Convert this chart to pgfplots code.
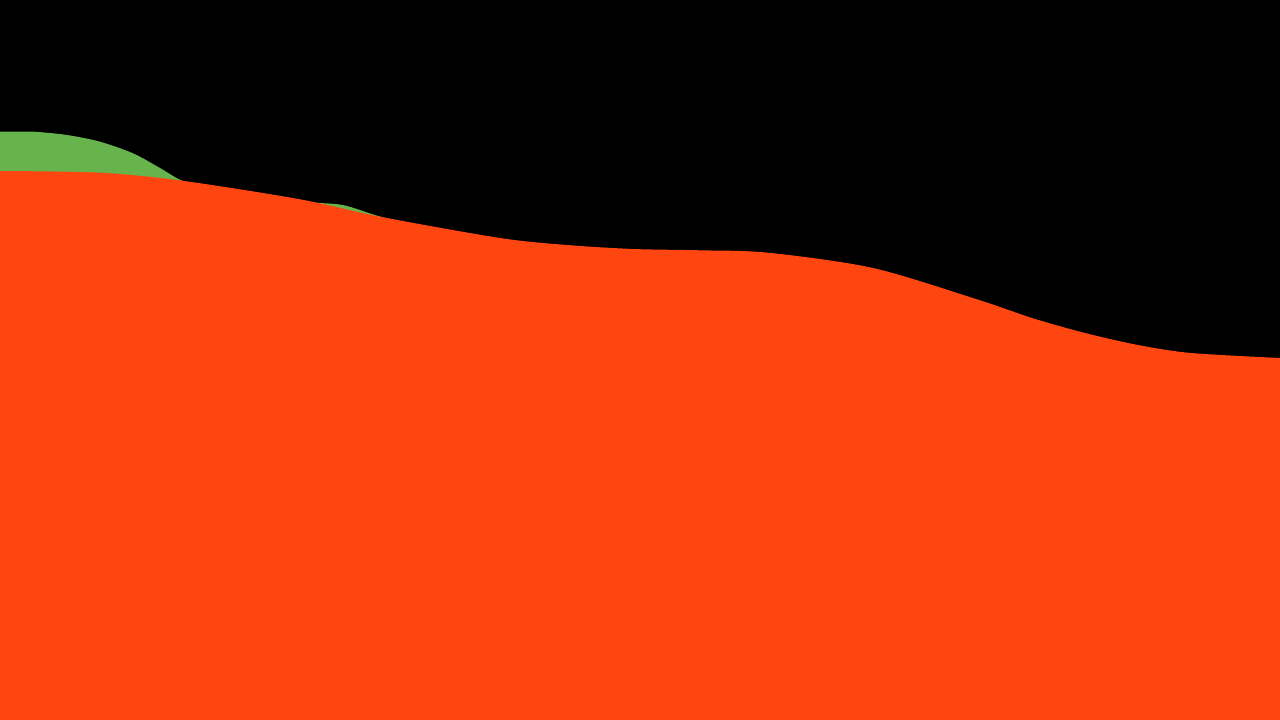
\documentclass[border=0pt]{standalone}
\usepackage{pgfplots}
\pgfplotsset{compat=1.18}
\definecolor{bgblack}{RGB}{0,0,0}
\definecolor{areaorange}{RGB}{255,70,17}
\definecolor{areagreen}{RGB}{103,179,76}
\begin{document}
\begin{tikzpicture}
\begin{axis}[
    width=12.8cm, height=7.2cm,
    scale only axis,
    xmin=0, xmax=1280,
    ymin=0, ymax=720,
    axis lines=none,
    ticks=none,
    axis background/.style={fill=bgblack},
]
% green area, mostly behind the orange one
\addplot[fill=areagreen, draw=none, smooth] coordinates {
    (0,588.3) (33,588.3) (67,585) (100,578.3) (133,566.7) (160,552)
    (182,539.3) (215,528) (260,520) (320,517) (345,514.5) (380,503.5)
    (433,490) (600,450) (900,420) (1280,340)
} \closedcycle;
% orange area in front
\addplot[fill=areaorange, draw=none, smooth] coordinates {
    (0,549) (100,547.3) (182,539.3) (300,520.7)
    (380,503.3) (500,482) (567,475) (633,471) (700,469.7)
    (768,467.3) (873,452) (979,420) (1032,402) (1085,387) (1138,375)
    (1191,367) (1280,362)
} \closedcycle;
\end{axis}
\end{tikzpicture}
\end{document}
